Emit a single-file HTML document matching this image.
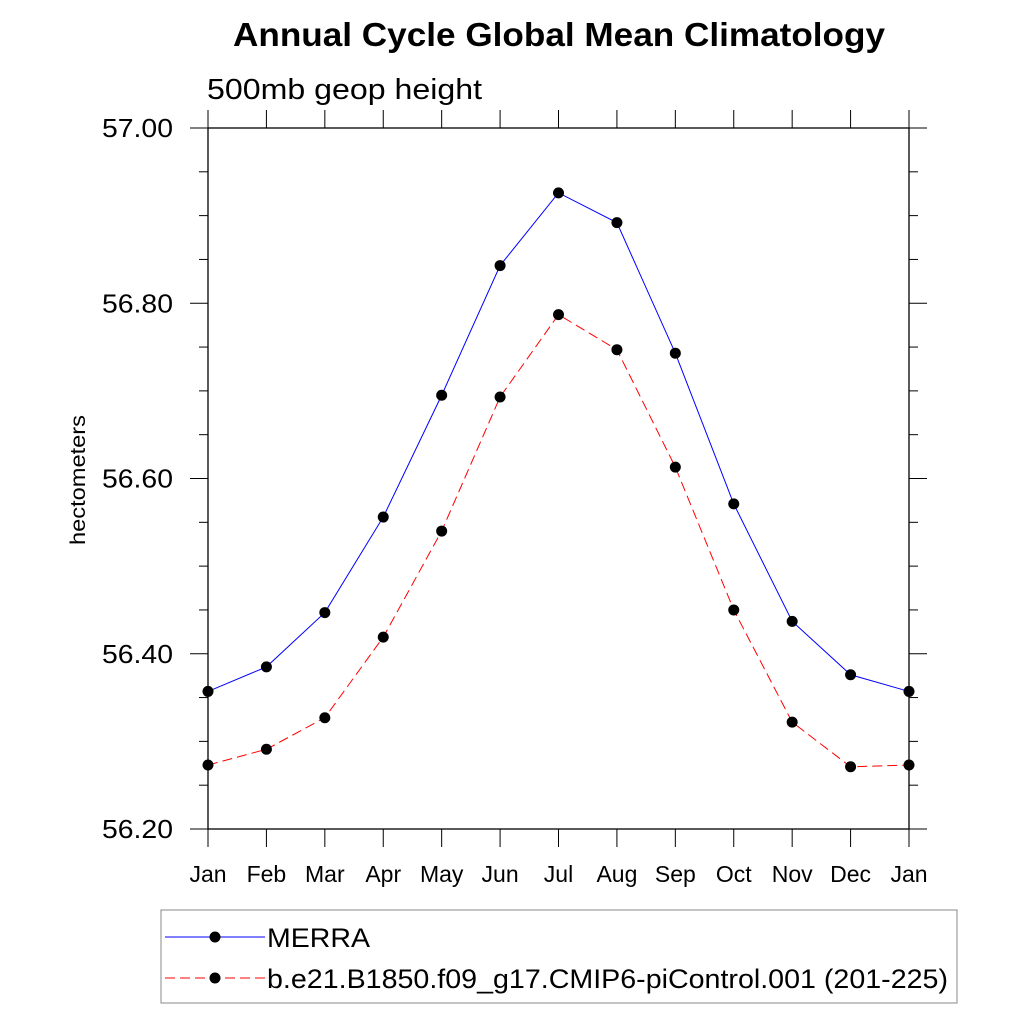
<!DOCTYPE html>
<html><head><meta charset="utf-8"><style>
body{margin:0;background:#fff;}
svg{display:block;font-family:"Liberation Sans",Arial,sans-serif;}
</style></head><body>
<svg id="chart" width="1024" height="1024" viewBox="0 0 1024 1024">
<text x="559" y="46" text-anchor="middle" font-size="33" font-weight="bold" textLength="652" lengthAdjust="spacingAndGlyphs">Annual Cycle Global Mean Climatology</text>
<text x="207" y="99" font-size="29" textLength="275" lengthAdjust="spacingAndGlyphs">500mb geop height</text>
<text transform="translate(85,480) rotate(-90)" text-anchor="middle" font-size="21" textLength="130" lengthAdjust="spacingAndGlyphs">hectometers</text>
<g id="axes"></g>
<g id="series"></g>
<rect x="161" y="910" width="796" height="93" fill="none" stroke="#888" stroke-width="1"/>
<g id="legend"></g>
</svg>
<script>
const months=["Jan","Feb","Mar","Apr","May","Jun","Jul","Aug","Sep","Oct","Nov","Dec","Jan"];
const merra=[56.357,56.385,56.447,56.556,56.695,56.843,56.926,56.892,56.743,56.571,56.437,56.376,56.357];
const model=[56.273,56.291,56.327,56.419,56.540,56.693,56.787,56.747,56.613,56.450,56.322,56.271,56.273];
const yTicks=[56.2,56.4,56.6,56.8,57.0];
const yTickLabels=["56.20","56.40","56.60","56.80","57.00"];
const seriesNames=["MERRA","b.e21.B1850.f09_g17.CMIP6-piControl.001 (201-225)"];

const NS="http://www.w3.org/2000/svg";
const L=208,R=909,T=128,B=829,ymin=56.2,ymax=57.0;
const xs=i=>L+(R-L)*i/(months.length-1);
const ys=v=>B-(v-ymin)/(ymax-ymin)*(B-T);
function mk(tag,attrs,parent){const e=document.createElementNS(NS,tag);for(const k in attrs)e.setAttribute(k,attrs[k]);parent.appendChild(e);return e;}
const ax=document.getElementById('axes');
let f=mk('rect',{x:L,y:T,width:R-L,height:B-T,fill:'none',stroke:'#000','stroke-width':1.3},ax);


months.forEach((m,i)=>{
  const x=xs(i);
  mk('line',{x1:x,y1:B,x2:x,y2:B+18,stroke:'#000'},ax);
  mk('line',{x1:x,y1:T,x2:x,y2:T-18,stroke:'#000'},ax);
  const t=mk('text',{x:x,y:B+53,'text-anchor':'middle','font-size':23},ax);
  t.textContent=m;
  
  
});
for(let v=ymin;v<=ymax+1e-6;v+=0.05){
  const y=ys(v);
  const major=Math.abs(Math.round(v*5)-v*5)<1e-6;
  const len=major?18:9;
  mk('line',{x1:L-len,y1:y,x2:L,y2:y,stroke:'#000'},ax);
  mk('line',{x1:R,y1:y,x2:R+len,y2:y,stroke:'#000'},ax);
}
yTicks.forEach((v,i)=>{
  const t=mk('text',{x:L-35,y:ys(v)+9,'text-anchor':'end','font-size':26,textLength:71,lengthAdjust:'spacingAndGlyphs'},ax);
  t.textContent=yTickLabels[i];
  
  
});
const sg=document.getElementById('series');
function drawSeries(data,color,dash,name){
  const g=mk('g',{},sg);
  
  
  const pts=data.map((v,i)=>xs(i)+','+ys(v)).join(' ');
  const attrs={points:pts,fill:'none',stroke:color,'stroke-width':1};
  if(dash)attrs['stroke-dasharray']=dash;
  mk('polyline',attrs,g);
  data.forEach((v,i)=>{
    const c=mk('circle',{cx:xs(i),cy:ys(v),r:5.5,fill:'#000'},g);
    
    
  });
}
drawSeries(merra,'#0000ff',null,'merra-series');
drawSeries(model,'#ff0000','10,5','model-series');
const lg=document.getElementById('legend');
const legW=[103,681];
[[937,'#0000ff',null],[978,'#ff0000','10,5']].forEach((e,i)=>{
  const g=mk('g',{},lg);
  
  
  const a={x1:165,y1:e[0],x2:265,y2:e[0],stroke:e[1],'stroke-width':1};
  if(e[2])a['stroke-dasharray']=e[2];
  mk('line',a,g);
  mk('circle',{cx:215,cy:e[0],r:5.5,fill:'#000'},g);
  const t=mk('text',{x:267,y:e[0]+10,'font-size':27,textLength:legW[i],lengthAdjust:'spacingAndGlyphs'},g);
  t.textContent=seriesNames[i];
});
</script>
</body></html>
